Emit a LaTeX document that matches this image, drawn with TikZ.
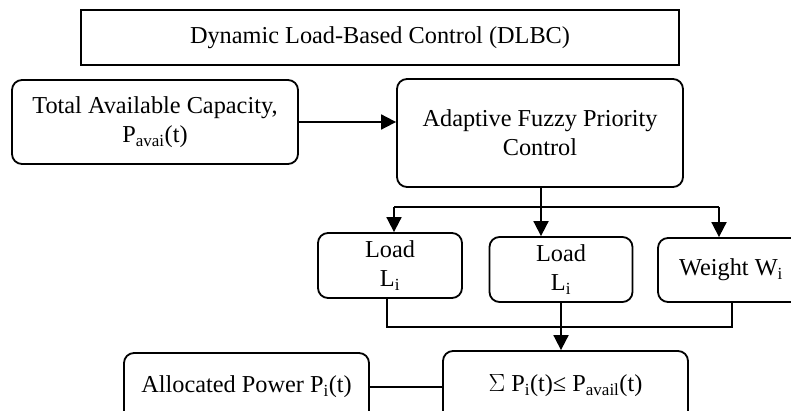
\documentclass[tikz,border=0pt]{standalone}
\usepackage{fontspec}
\setmainfont{Liberation Serif}
\usetikzlibrary{arrows.meta}
\begin{document}
\begin{tikzpicture}[x=1pt,y=-1pt,
  base/.style={draw=black, line width=1.8pt, align=center, inner sep=0pt,
    font=\fontsize{24.3}{29}\selectfont},
  rbox/.style={base, rounded corners=10pt},
  sbox/.style={base},
  arr/.style={line width=1.8pt, -{Triangle[length=15pt,width=15pt]}},
  ln/.style={line width=1.8pt}]
\useasboundingbox (0,0) rectangle (791,411);
\clip (0,0) rectangle (791,411);
\fill[white] (0,0) rectangle (791,411);
\node[sbox, minimum width=598pt, minimum height=55pt] (title) at (380,37.5) {Dynamic Load-Based Control (DLBC)};
\node[rbox, minimum width=286pt, minimum height=84pt] (total) at (155,122) {Total Available Capacity,\\P\textsubscript{avai}(t)};
\node[rbox, minimum width=286pt, minimum height=108pt] (afpc) at (540,133) {Adaptive Fuzzy Priority\\Control};
\node[rbox, minimum width=144pt, minimum height=65pt] (load1) at (390,265.5) {Load\\L\textsubscript{i}};
\node[rbox, minimum width=143pt, minimum height=65pt] (load2) at (561,269.5) {Load\\L\textsubscript{i}};
\node[rbox, minimum width=146pt, minimum height=64pt] (weight) at (731,270) {Weight W\textsubscript{i}};
\node[rbox, minimum width=245pt, minimum height=70pt] (sum) at (565.5,386) {$\Sigma$ P\textsubscript{i}(t)≤ P\textsubscript{avail}(t)};
\node[rbox, minimum width=245pt, minimum height=68pt] (alloc) at (246.5,387) {Allocated Power P\textsubscript{i}(t)};
\coordinate (bl) at (394,207);
\coordinate (bm) at (541,207);
\coordinate (br) at (719,207);
\coordinate (j1) at (387,327);
\coordinate (j2) at (732,327);
\draw[arr] (total.east) -- (total.east -| afpc.west);
\draw[arr] (bm |- afpc.south) -- (bm |- load2.north);
\draw[ln] (bl) -- (br);
\draw[arr] (bl) -- (bl |- load1.north);
\draw[arr] (br) -- (br |- weight.north);
\draw[ln] (j1 |- load1.south) -- (j1) -- (j2) -- (j2 |- weight.south);
\draw[arr] (load2.south) -- (load2.south |- sum.north);
\draw[ln] (alloc.east) -- (alloc.east -| sum.west);
\end{tikzpicture}
\end{document}
